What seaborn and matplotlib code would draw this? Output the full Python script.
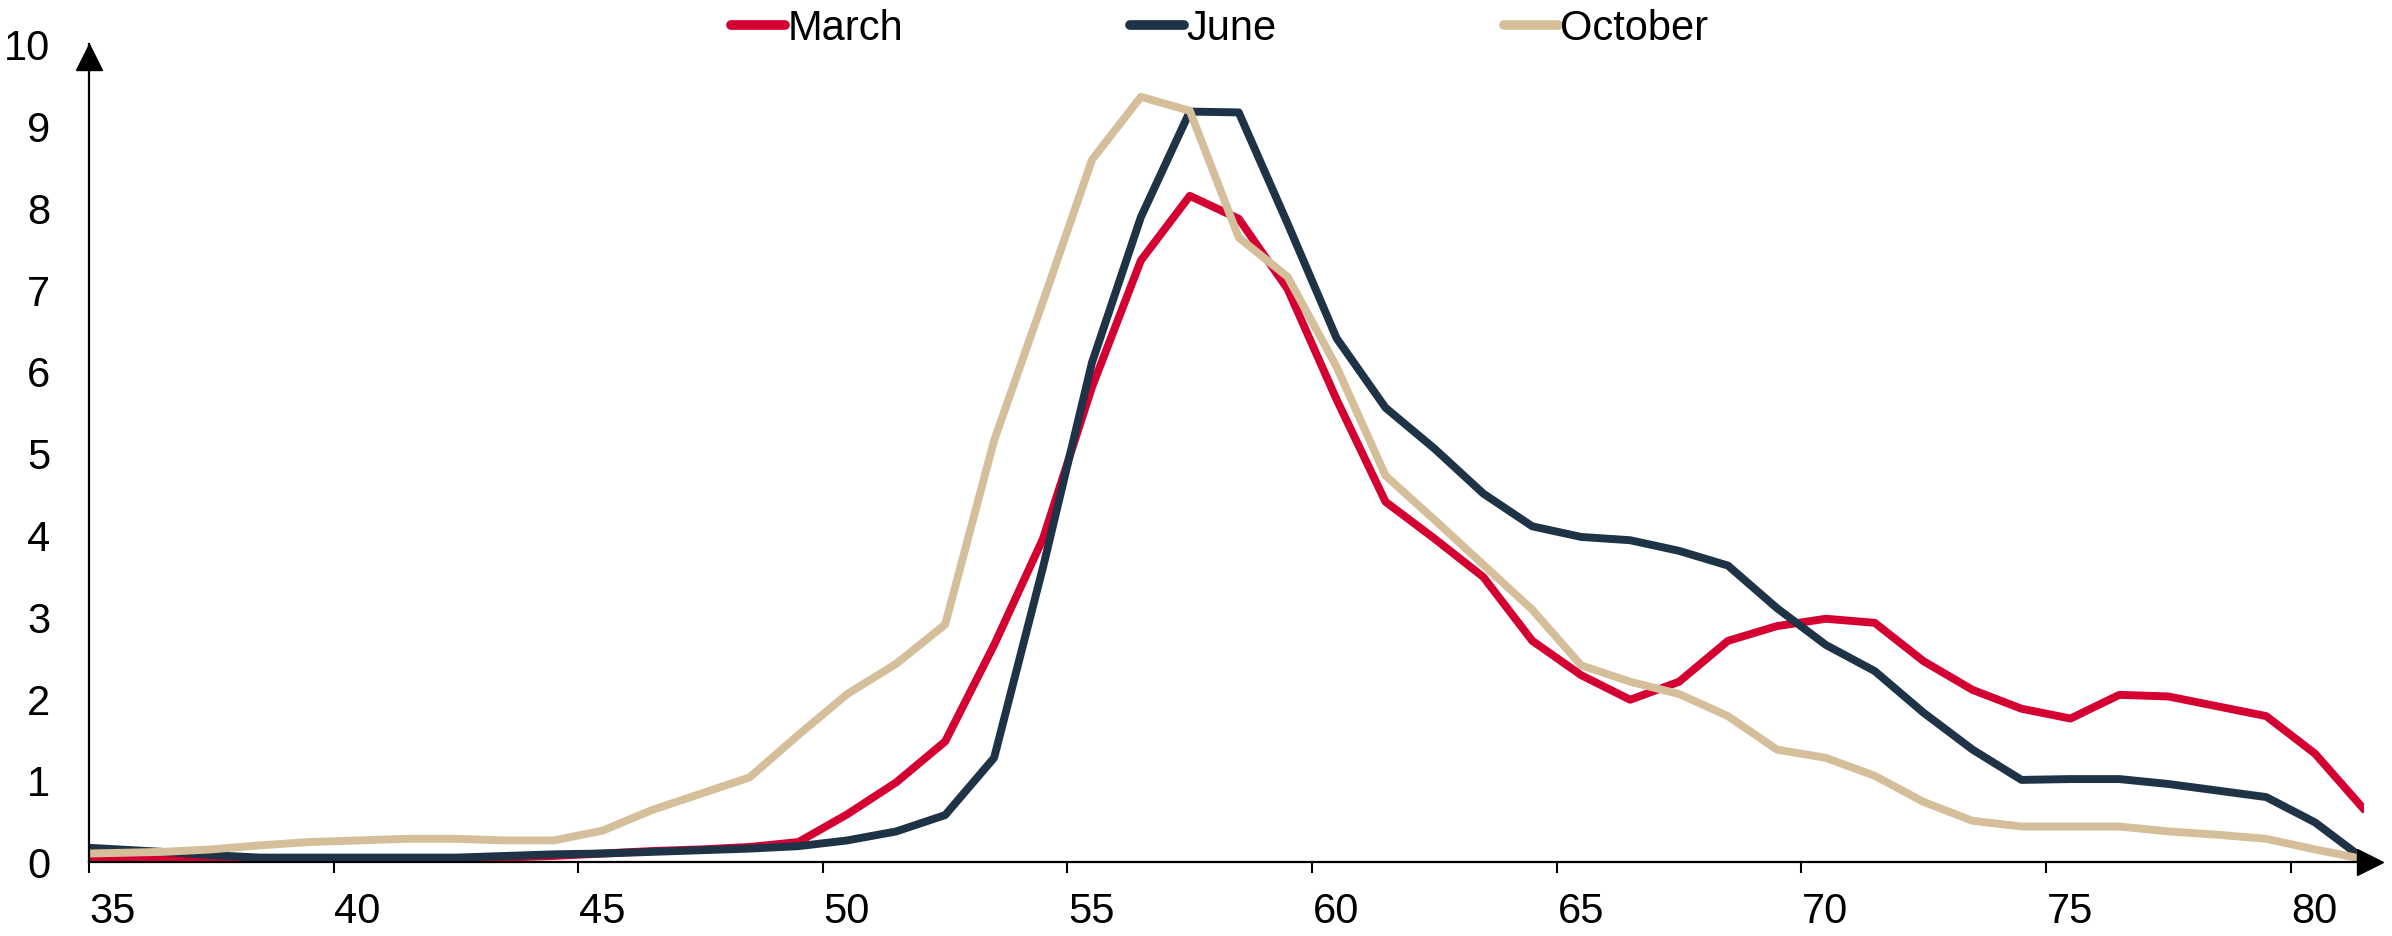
import matplotlib
matplotlib.use("Agg")
import matplotlib.pyplot as plt
import matplotlib.transforms as mtransforms
import seaborn as sns
import pandas as pd

# x positions of the observations
x_vals = [35, 36.5, 37.5, 38.5, 39.5, 40.5, 41.5, 42.5, 43.5, 44.5, 45.5, 46.5,
          47.5, 48.5, 49.5, 50.5, 51.5, 52.5, 53.5, 54.5, 55.5, 56.5, 57.5, 58.5,
          59.5, 60.5, 61.5, 62.5, 63.5, 64.5, 65.5, 66.5, 67.5, 68.5, 69.5, 70.5,
          71.5, 72.5, 73.5, 74.5, 75.5, 76.5, 77.5, 78.5, 79.5, 80.5, 81.5]

march = [0.05, 0.05, 0.04, 0.02, 0.02, 0.02, 0.02, 0.03, 0.05, 0.07, 0.10, 0.13,
         0.15, 0.18, 0.24, 0.58, 0.97, 1.47, 2.65, 3.95, 5.80, 7.35, 8.14, 7.86,
         7.00, 5.65, 4.40, 3.95, 3.48, 2.70, 2.28, 1.98, 2.20, 2.70, 2.88, 2.97,
         2.92, 2.45, 2.10, 1.87, 1.75, 2.04, 2.02, 1.90, 1.78, 1.32, 0.64]

june = [0.17, 0.12, 0.08, 0.05, 0.05, 0.05, 0.05, 0.05, 0.07, 0.09, 0.10, 0.12,
        0.14, 0.16, 0.19, 0.26, 0.37, 0.57, 1.27, 3.60, 6.10, 7.88, 9.17, 9.16,
        7.80, 6.40, 5.55, 5.05, 4.50, 4.10, 3.97, 3.93, 3.80, 3.62, 3.10, 2.65,
        2.33, 1.82, 1.37, 1.00, 1.01, 1.01, 0.95, 0.87, 0.79, 0.48, 0.03]

october = [0.10, 0.12, 0.15, 0.20, 0.24, 0.26, 0.28, 0.28, 0.26, 0.26, 0.38, 0.63,
           0.83, 1.03, 1.55, 2.05, 2.42, 2.90, 5.15, 6.85, 8.58, 9.35, 9.18, 7.63,
           7.15, 6.05, 4.72, 4.18, 3.63, 3.08, 2.40, 2.20, 2.05, 1.78, 1.37, 1.27,
           1.05, 0.73, 0.50, 0.43, 0.43, 0.43, 0.37, 0.33, 0.28, 0.15, 0.03]

months = ["March", "June", "October"]
colors = {"March": "#D50032", "June": "#1F3347", "October": "#D5BF9B"}

x_ticks = [35, 40, 45, 50, 55, 60, 65, 70, 75, 80]
y_ticks = [0, 1, 2, 3, 4, 5, 6, 7, 8, 9, 10]

# long format for seaborn
frames = []
for name, vals in zip(months, [march, june, october]):
    frames.append(pd.DataFrame({"x": x_vals, "value": vals, "Month": name}))
df = pd.concat(frames, ignore_index=True)

sns.set_theme(style="white")
plt.rcParams["font.family"] = ["Liberation Sans", "DejaVu Sans"]
plt.rcParams["text.color"] = "black"

fig = plt.figure(figsize=(23.92, 9.37), dpi=100)
ax = fig.add_axes([0.0372, 0.0793, 0.9511, 0.873])

sns.lineplot(data=df, x="x", y="value", hue="Month", hue_order=months,
             palette=colors, linewidth=5.7, ax=ax, sort=False)

ax.set_xlim(35, 81.5)
ax.set_ylim(0, 10)
ax.set_xticks(x_ticks)
ax.set_yticks(y_ticks)
ax.set_xlabel("")
ax.set_ylabel("")

for side in ["top", "right"]:
    ax.spines[side].set_visible(False)
for side in ["left", "bottom"]:
    ax.spines[side].set_color("black")
    ax.spines[side].set_linewidth(1.6)

ax.tick_params(axis="x", direction="out", length=8, width=1.5, color="black",
               pad=13, labelsize=30, labelcolor="black", bottom=True)
ax.tick_params(axis="y", length=0, pad=28, labelsize=30, labelcolor="black")

# x labels sit a bit to the right of their tick marks
shift = mtransforms.ScaledTranslation(0.24, 0, fig.dpi_scale_trans)
for lab in ax.get_xticklabels():
    lab.set_transform(lab.get_transform() + shift)

# arrow heads on both axes
ax.plot(35, 9.84, marker="^", color="black", markersize=19, clip_on=False)
ax.plot(81.62, 0, marker=">", color="black", markersize=19, clip_on=False)

sns.move_legend(ax, "center", bbox_to_anchor=(0.497, 1.019), ncol=3, frameon=False,
                title=None, fontsize=30, handlelength=1.3, handletextpad=0.05,
                columnspacing=5.45)
leg = ax.get_legend()
for h in leg.get_lines():
    h.set_linewidth(7)
    h.set_solid_capstyle("round")
for t in leg.get_texts():
    t.set_color("black")

fig.savefig("out.png", dpi=100)
